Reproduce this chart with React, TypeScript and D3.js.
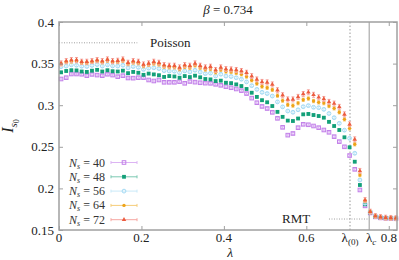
import React, { useEffect, useRef } from 'react';
import * as d3 from 'd3';

// lambda grid of the simulations
const lambdas = [
  0.005, 0.0175, 0.03, 0.0425, 0.055, 0.0675, 0.08, 0.0925, 0.105, 0.1175,
  0.13, 0.1425, 0.155, 0.1675, 0.18, 0.1925, 0.205, 0.2175, 0.23, 0.2425,
  0.255, 0.2675, 0.28, 0.2925, 0.305, 0.3175, 0.33, 0.3425, 0.355, 0.3675,
  0.38, 0.3925, 0.405, 0.4175, 0.43, 0.4425, 0.455, 0.4675, 0.48, 0.4925,
  0.505, 0.5175, 0.53, 0.5425, 0.555, 0.5675, 0.58, 0.5925, 0.605, 0.6175,
  0.63, 0.6425, 0.655, 0.6675, 0.68, 0.6925, 0.705, 0.7175, 0.73, 0.7425,
  0.755, 0.7675, 0.78, 0.7925, 0.805, 0.8175,
];

const sizes = [40, 48, 56, 64, 72];

const is0N40 = [
  0.3315, 0.3331, 0.3375, 0.3375, 0.3372, 0.3355, 0.337, 0.3362, 0.3355, 0.3372,
  0.3362, 0.3343, 0.3355, 0.3327, 0.3325, 0.3331, 0.3331, 0.3303, 0.3291, 0.3303,
  0.3275, 0.3275, 0.3275, 0.3283, 0.3263, 0.3285, 0.3277, 0.327, 0.3265, 0.3263,
  0.3251, 0.3239, 0.3223, 0.321, 0.3195, 0.3175, 0.314, 0.3085, 0.303, 0.2985,
  0.296, 0.2914, 0.2842, 0.2734, 0.264, 0.266, 0.273, 0.277, 0.2765, 0.275,
  0.273, 0.2702, 0.2674, 0.2622, 0.2562, 0.25, 0.2395, 0.2229, 0.1981, 0.179,
  0.1705, 0.1658, 0.1646, 0.1641, 0.1639, 0.1637,
];
const is0N48 = [
  0.3395, 0.3411, 0.342, 0.3418, 0.3405, 0.34, 0.3415, 0.3425, 0.3405, 0.342,
  0.3408, 0.3405, 0.3415, 0.3385, 0.34, 0.339, 0.3365, 0.338, 0.337, 0.336,
  0.334, 0.335, 0.3345, 0.333, 0.335, 0.3338, 0.3355, 0.3335, 0.3315, 0.331,
  0.329, 0.3295, 0.327, 0.3265, 0.325, 0.323, 0.3195, 0.315, 0.31, 0.306,
  0.3035, 0.299, 0.292, 0.286, 0.2815, 0.281, 0.284, 0.289, 0.2895, 0.2882,
  0.287, 0.285, 0.28, 0.275, 0.2702, 0.2614, 0.2494, 0.2321, 0.2041, 0.1809,
  0.171, 0.166, 0.1648, 0.1642, 0.164, 0.1638,
];
const is0N56 = [
  0.3463, 0.347, 0.3485, 0.348, 0.3468, 0.3465, 0.3478, 0.3488, 0.347, 0.3485,
  0.3472, 0.347, 0.348, 0.3448, 0.3465, 0.3455, 0.343, 0.3445, 0.345, 0.344,
  0.3415, 0.341, 0.3408, 0.339, 0.3412, 0.34, 0.342, 0.3398, 0.338, 0.3385,
  0.335, 0.3372, 0.335, 0.3345, 0.333, 0.3312, 0.328, 0.3235, 0.319, 0.3155,
  0.314, 0.311, 0.304, 0.298, 0.293, 0.2915, 0.2945, 0.2982, 0.2995, 0.2975,
  0.297, 0.295, 0.29, 0.285, 0.2782, 0.27, 0.2602, 0.2422, 0.2101, 0.1821,
  0.1715, 0.1663, 0.165, 0.1644, 0.1642, 0.164,
];
const is0N64 = [
  0.3495, 0.3518, 0.3525, 0.353, 0.351, 0.3508, 0.352, 0.353, 0.3515, 0.3535,
  0.3518, 0.352, 0.3535, 0.3495, 0.3512, 0.3505, 0.347, 0.3485, 0.35, 0.349,
  0.3462, 0.3455, 0.3455, 0.3432, 0.346, 0.345, 0.3478, 0.345, 0.3428, 0.3435,
  0.3395, 0.3425, 0.3405, 0.34, 0.3388, 0.3372, 0.3345, 0.33, 0.326, 0.3225,
  0.321, 0.3185, 0.3115, 0.3055, 0.3005, 0.2995, 0.3025, 0.3065, 0.308, 0.305,
  0.3034, 0.3025, 0.299, 0.2962, 0.2915, 0.283, 0.2722, 0.253, 0.2161, 0.1849,
  0.1718, 0.1665, 0.1652, 0.1645, 0.1643, 0.1641,
];
const is0N72 = [
  0.3503, 0.3531, 0.3543, 0.3543, 0.3523, 0.3523, 0.3531, 0.3543, 0.3531, 0.3551,
  0.3531, 0.3535, 0.3551, 0.3511, 0.3531, 0.3523, 0.349, 0.3503, 0.3523, 0.3511,
  0.3483, 0.3475, 0.3475, 0.3455, 0.3483, 0.3475, 0.3503, 0.3475, 0.3455, 0.3463,
  0.3423, 0.3455, 0.3435, 0.3431, 0.3423, 0.3411, 0.339, 0.335, 0.331, 0.328,
  0.3275, 0.325, 0.318, 0.312, 0.307, 0.307, 0.31, 0.3135, 0.3155, 0.3125,
  0.3095, 0.3075, 0.304, 0.302, 0.298, 0.289, 0.277, 0.259, 0.221, 0.186,
  0.172, 0.1668, 0.1655, 0.1648, 0.1645, 0.1642,
];

const seriesValues = [is0N40, is0N48, is0N56, is0N64, is0N72];
const seriesErrors = [0.0012, 0.0012, 0.0015, 0.002, 0.003];
const seriesColors = ['#c27fe9', '#13a079', '#a3daf4', '#eea318', '#ec5b3e'];
const barColors = ['#dcb4f3', '#7cc9b2', '#c9e9f8', '#f5cd7a', '#f6a6a0'];
const seriesMarkers = ['openSquare', 'square', 'openCircle', 'circle', 'triangle'];

const xTicks = [0, 0.2, 0.4, 0.6, 0.8];
const yTicks = [0.15, 0.2, 0.25, 0.3, 0.35, 0.4];
const poissonValue = 0.375;
const rmtValue = 0.1632;
const lambda0 = 0.706;
const lambdaC = 0.7525;

const W = 399;
const H = 260;
const margin = { left: 59, right: 2, top: 22, bottom: 30 };
const FONT = '"Liberation Serif", "DejaVu Serif", serif';

export default function App() {
  const ref = useRef<SVGSVGElement>(null);

  useEffect(() => {
    const svg = d3.select(ref.current);
    svg.selectAll('*').remove();

    const x = d3.scaleLinear().domain([0, 0.82]).range([margin.left, W - margin.right]);
    const y = d3.scaleLinear().domain([0.15, 0.4]).range([H - margin.bottom, margin.top]);
    const axisColor = '#a0a0a0';

    // reference lines
    svg.append('line')
      .attr('x1', x(0)).attr('x2', x(0.19))
      .attr('y1', y(poissonValue)).attr('y2', y(poissonValue))
      .attr('stroke', '#888').attr('stroke-width', 0.8).attr('stroke-dasharray', '1,1.5');
    svg.append('line')
      .attr('x1', x(0.655)).attr('x2', x(lambdaC))
      .attr('y1', y(rmtValue)).attr('y2', y(rmtValue))
      .attr('stroke', '#888').attr('stroke-width', 0.8).attr('stroke-dasharray', '1,1.5');
    svg.append('line')
      .attr('x1', x(lambda0)).attr('x2', x(lambda0))
      .attr('y1', y(0.4)).attr('y2', y(0.15))
      .attr('stroke', '#aaa').attr('stroke-width', 1.2).attr('stroke-dasharray', '1.5,2');
    svg.append('line')
      .attr('x1', x(lambdaC)).attr('x2', x(lambdaC))
      .attr('y1', y(0.4)).attr('y2', y(0.15))
      .attr('stroke', '#999').attr('stroke-width', 1);

    const drawMarker = (g: any, kind: string, cx: number, cy: number, color: string) => {
      if (kind === 'openSquare') {
        g.append('rect').attr('x', cx - 1.8).attr('y', cy - 1.8).attr('width', 3.6).attr('height', 3.6)
          .attr('fill', 'none').attr('stroke', color).attr('stroke-width', 1);
      } else if (kind === 'square') {
        g.append('rect').attr('x', cx - 1.9).attr('y', cy - 1.9).attr('width', 3.8).attr('height', 3.8)
          .attr('fill', color);
      } else if (kind === 'openCircle') {
        g.append('circle').attr('cx', cx).attr('cy', cy).attr('r', 1.9)
          .attr('fill', 'none').attr('stroke', color).attr('stroke-width', 1);
      } else if (kind === 'circle') {
        g.append('circle').attr('cx', cx).attr('cy', cy).attr('r', 1.7).attr('fill', color);
      } else {
        g.append('path').attr('d', d3.symbol(d3.symbolTriangle, 9)()).attr('transform', `translate(${cx},${cy})`)
          .attr('fill', color);
      }
    };

    // data
    seriesValues.forEach((vals, s) => {
      const g = svg.append('g');
      const err = seriesErrors[s];
      vals.forEach((v, i) => {
        const cx = x(lambdas[i]);
        const y1 = y(v - err), y2 = y(v + err);
        g.append('line').attr('x1', cx).attr('x2', cx).attr('y1', y1).attr('y2', y2)
          .attr('stroke', barColors[s]).attr('stroke-width', 1);
        [y1, y2].forEach(yy => g.append('line').attr('x1', cx - 1.5).attr('x2', cx + 1.5)
          .attr('y1', yy).attr('y2', yy).attr('stroke', barColors[s]).attr('stroke-width', 1));
        drawMarker(g, seriesMarkers[s], cx, y(v), seriesColors[s]);
      });
    });

    // frame
    svg.append('rect')
      .attr('x', x(0)).attr('y', y(0.4))
      .attr('width', x(0.82) - x(0)).attr('height', y(0.15) - y(0.4))
      .attr('fill', 'none').attr('stroke', axisColor).attr('stroke-width', 1.5);

    const xAxisB = d3.axisBottom(x).tickValues(xTicks).tickSize(-4).tickFormat(() => '');
    const xAxisT = d3.axisTop(x).tickValues(xTicks).tickSize(-4).tickFormat(() => '');
    const yAxisL = d3.axisLeft(y).tickValues(yTicks).tickSize(-4).tickFormat(() => '');
    const yAxisR = d3.axisRight(y).tickValues(yTicks).tickSize(-4).tickFormat(() => '');
    svg.append('g').attr('transform', `translate(0,${y(0.15)})`).call(xAxisB);
    svg.append('g').attr('transform', `translate(0,${y(0.4)})`).call(xAxisT);
    svg.append('g').attr('transform', `translate(${x(0)},0)`).call(yAxisL);
    svg.append('g').attr('transform', `translate(${x(0.82)},0)`).call(yAxisR);
    svg.selectAll('.domain').remove();
    svg.selectAll('.tick line').attr('stroke', axisColor).attr('stroke-width', 1);

    // tick labels
    const txt = svg.append('g').attr('font-family', FONT).attr('font-size', 13).attr('fill', '#222');
    xTicks.forEach(t => {
      txt.append('text').attr('x', x(t)).attr('y', y(0.15) + 12).attr('text-anchor', 'middle').text(t === 0 ? '0' : String(t));
    });
    yTicks.forEach(t => {
      txt.append('text').attr('x', x(0) - 5).attr('y', y(t) + 4.5).attr('text-anchor', 'end').text(String(t));
    });
    const l0 = txt.append('text').attr('x', x(lambda0)).attr('y', y(0.15) + 12).attr('text-anchor', 'middle');
    l0.append('tspan').text('λ');
    l0.append('tspan').attr('font-size', 9).attr('dy', 3).text('(0)');
    const lc = txt.append('text').attr('x', x(lambdaC) + 2).attr('y', y(0.15) + 12).attr('text-anchor', 'middle');
    lc.append('tspan').text('λ');
    lc.append('tspan').attr('font-size', 9).attr('dy', 3).attr('font-style', 'italic').text('c');

    // annotations
    txt.append('text').attr('x', 150).attr('y', y(poissonValue) + 4.5).text('Poisson');
    txt.append('text').attr('x', 282).attr('y', y(rmtValue) + 4).text('RMT');

    // title and axis labels
    const title = svg.append('text').attr('x', (x(0) + x(0.82)) / 2).attr('y', 14)
      .attr('text-anchor', 'middle').attr('font-family', FONT).attr('font-size', 13).attr('fill', '#222');
    title.append('tspan').attr('font-style', 'italic').text('β');
    title.append('tspan').text(' = 0.734');

    svg.append('text').attr('x', x(0.415)).attr('y', 257).attr('text-anchor', 'middle')
      .attr('font-family', FONT).attr('font-size', 13.5).attr('font-style', 'italic').attr('fill', '#222').text('λ');

    const yl = svg.append('text').attr('transform', `translate(13,${(y(0.15) + y(0.4)) / 2}) rotate(-90)`)
      .attr('text-anchor', 'middle').attr('font-family', FONT).attr('font-size', 16).attr('fill', '#222');
    yl.append('tspan').attr('font-style', 'italic').text('I');
    yl.append('tspan').attr('font-size', 11).attr('dy', 4).attr('font-style', 'italic').text('s');
    yl.append('tspan').attr('font-size', 8).attr('dy', 2).text('0');

    // legend
    const leg = svg.append('g').attr('font-family', FONT).attr('font-size', 12).attr('fill', '#333');
    sizes.forEach((n, s) => {
      const ly = 162.5 + s * 14.3;
      const t = leg.append('text').attr('x', 105).attr('y', ly + 4).attr('text-anchor', 'end');
      t.append('tspan').attr('font-style', 'italic').text('N');
      t.append('tspan').attr('font-style', 'italic').attr('font-size', 8).attr('dy', 2).text('s');
      t.append('tspan').attr('dy', -2).text(` = ${n}`);
      leg.append('line').attr('x1', 111).attr('x2', 137).attr('y1', ly).attr('y2', ly)
        .attr('stroke', barColors[s]).attr('stroke-width', 1);
      [111, 137].forEach(xx => leg.append('line').attr('x1', xx).attr('x2', xx)
        .attr('y1', ly - 1.5).attr('y2', ly + 1.5).attr('stroke', barColors[s]).attr('stroke-width', 1));
      drawMarker(leg, seriesMarkers[s], 124, ly, seriesColors[s]);
    });
  }, []);

  return (
    <svg ref={ref} width={W} height={H}
      style={{ position: 'absolute', left: 0, top: 0, background: '#fff' }} />
  );
}
